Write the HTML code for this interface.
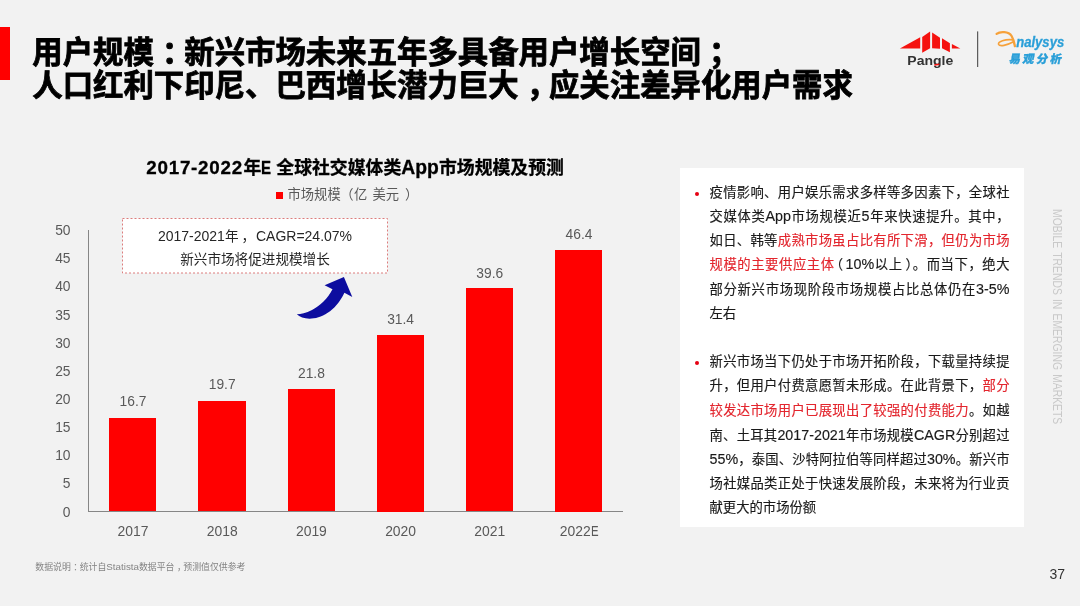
<!DOCTYPE html>
<html lang="zh-CN">
<head>
<meta charset="utf-8">
<title>用户规模</title>
<style>
html,body{margin:0;padding:0;}
body{width:1080px;height:606px;overflow:hidden;background:#f2f2f2;position:relative;
 font-family:"Liberation Sans","Noto Sans CJK SC",sans-serif;color:#000;}
.abs{position:absolute;white-space:nowrap;}
#redbar{left:0;top:27px;width:10px;height:53px;background:#ff0000;}
#title{left:32.3px;top:36.2px;font-size:30.4px;line-height:32.5px;font-weight:bold;color:#000;-webkit-text-stroke:0.8px #000;}
#title i{font-style:normal;position:relative;left:8px;}
#ctitle{left:146.3px;top:155px;font-size:17.85px;line-height:26px;font-weight:bold;color:#000;-webkit-text-stroke:0.3px #000;}
#ctitle span{display:inline-block;vertical-align:baseline;font-size:18.8px;}
#ctitle .d{width:97.1px;letter-spacing:0.75px;}
#ctitle .e{width:15.1px;}
#ctitle .e b{display:inline-block;transform:scaleX(0.8);transform-origin:0 50%;}
#ctitle .a{width:37.75px;font-size:19.3px;}
#legsq{left:276px;top:192px;width:7px;height:7px;background:#ff0000;}
#legtx{left:287.5px;top:185px;font-size:13.3px;line-height:20px;color:#595959;word-spacing:1.5px;}
#legtx i{font-style:normal;position:relative;}
.yl{width:40px;left:30.5px;text-align:right;font-size:13.8px;line-height:16px;color:#595959;}
.xl{width:89px;text-align:center;font-size:13.9px;line-height:16px;color:#595959;top:523.4px;}
.vl{width:89px;text-align:center;font-size:13.8px;line-height:16px;color:#595959;}
.bar{background:#ff0000;width:47.3px;}
#yaxis{left:88px;top:230px;width:1px;height:282px;background:#868686;}
#xaxis{left:88px;top:511px;width:535px;height:1px;background:#868686;}
#callout{left:121px;top:217px;}
.ct{left:122px;width:266px;text-align:center;font-size:13.6px;line-height:20px;color:#262626;}
.ct span{font-size:14px;}
#foot{left:35.3px;top:560.4px;font-size:8.9px;line-height:14px;color:#848484;}
#foot span{font-size:9.8px;}
#foot i{font-style:normal;position:relative;left:2.5px;}
#panel{left:680px;top:168px;width:344px;height:359px;background:#fff;}
.ln{left:709.5px;width:300px;font-size:13.33px;line-height:24px;height:24px;color:#1a1a1a;-webkit-text-stroke:0.15px;text-align:justify;text-align-last:justify;white-space:nowrap;}
.ln .l{font-size:14.3px;line-height:1;}
.ln.last{text-align-last:left;}
.r{color:#e3262e;}
.dot{width:4px;height:4px;border-radius:50%;background:#e60012;left:695px;}
#vtext{left:1056.6px;top:209.3px;font-size:12px;line-height:12px;color:#c9c9c9;transform-origin:0 0;transform:rotate(90deg) scale(0.864,1) translate(0,-50%);letter-spacing:0;word-spacing:1.5px;}
#pgnum{left:1049.5px;top:566px;font-size:14px;line-height:16px;color:#333;}
</style>
</head>
<body>
<div class="abs" id="redbar"></div>
<div class="abs" id="title">用户规模<i>：</i>新兴市场未来五年多具备用户增长空间<i>；</i><br>人口红利下印尼、巴西增长潜力巨大<i>，</i>应关注差异化用户需求</div>

<!-- logos -->
<svg class="abs" id="pangle" style="left:890px;top:22px" width="90" height="60" viewBox="890 22 90 60">
 <g fill="#f5120f">
  <polygon points="899.9,48.6 920.2,37.3 920.2,48.6"/>
  <polygon points="922.2,36.9 930.1,31.4 930.1,48.2 922.2,52.8"/>
  <polygon points="932.1,32.4 940,37.8 940,48.7 932.1,48.2"/>
  <polygon points="942,38.3 949.9,43.3 949.9,52.3 942,48.2"/>
  <polygon points="951.9,44 960.3,48.6 951.9,48.6"/>
 </g>
 <text x="907.3" y="65.1" font-family="Liberation Sans, sans-serif" font-weight="bold" font-size="13.2" fill="#333" textLength="46" lengthAdjust="spacingAndGlyphs">Pangle</text>
 <polygon points="934.3,64.3 939.4,63.4 939.4,65 934.3,65.8" fill="#f5120f"/>
 <rect x="977.1" y="31.4" width="1.1" height="35.6" fill="#4d4d4d"/>
</svg>
<svg class="abs" id="analysys" style="left:985px;top:22px" width="90" height="60" viewBox="985 22 90 60">
 <g fill="none" stroke="#f6a13a" stroke-linecap="round">
  <path d="M996.6,33.9 C1000,31.4 1008.5,31.2 1011.6,36 C1013.8,39.6 1014.3,43 1014.9,46.2" stroke-width="2.3"/>
  <path d="M1012.6,39.8 C1005,38.9 997.8,41.9 998.6,44.3 C999.6,46.7 1007,45.4 1013.5,41.8" stroke-width="1.7"/>
 </g>
 <text x="1016.2" y="46.8" font-family="Liberation Sans, sans-serif" font-weight="bold" font-style="italic" font-size="14.2" fill="#2a9fd8" stroke="#2a9fd8" stroke-width="0.3" textLength="48" lengthAdjust="spacingAndGlyphs">nalysys</text>
 <text x="1008.7" y="62.9" font-family="Liberation Sans, Noto Sans CJK SC, sans-serif" font-weight="900" font-size="11.4" fill="#2a9fd8" stroke="#2a9fd8" stroke-width="0.35" letter-spacing="2.3" transform="translate(1008.7 62.9) skewX(-10) translate(-1008.7 -62.9)">易观分析</text>
</svg>

<!-- chart -->
<div class="abs" id="ctitle"><span class="d">2017-2022</span>年<span class="e"><b>E</b> </span>全球社交媒体类<span class="a">App</span>市场规模及预测</div>
<div class="abs" id="legsq"></div>
<div class="abs" id="legtx">市场规模<i style="left:-0.5px">（</i>亿 美元<i style="left:6px">）</i></div>

<div class="abs yl" style="top:223.0px">50</div>
<div class="abs yl" style="top:251.2px">45</div>
<div class="abs yl" style="top:279.3px">40</div>
<div class="abs yl" style="top:307.5px">35</div>
<div class="abs yl" style="top:335.6px">30</div>
<div class="abs yl" style="top:363.8px">25</div>
<div class="abs yl" style="top:391.9px">20</div>
<div class="abs yl" style="top:420.1px">15</div>
<div class="abs yl" style="top:448.2px">10</div>
<div class="abs yl" style="top:476.4px">5</div>
<div class="abs yl" style="top:504.5px">0</div>

<div class="abs" id="yaxis"></div>
<div class="abs" id="xaxis"></div>
<div class="abs bar" style="left:109.2px;top:417.7px;height:93.8px"></div>
<div class="abs bar" style="left:198.4px;top:400.9px;height:110.6px"></div>
<div class="abs bar" style="left:287.6px;top:388.6px;height:122.9px"></div>
<div class="abs bar" style="left:376.8px;top:334.5px;height:177px"></div>
<div class="abs bar" style="left:465.7px;top:288.3px;height:223.2px"></div>
<div class="abs bar" style="left:555px;top:250px;height:261.5px"></div>

<div class="abs vl" style="left:88.5px;top:394.2px">16.7</div>
<div class="abs vl" style="left:177.7px;top:377.2px">19.7</div>
<div class="abs vl" style="left:266.9px;top:365.7px">21.8</div>
<div class="abs vl" style="left:356.1px;top:311.7px">31.4</div>
<div class="abs vl" style="left:445.3px;top:265.7px">39.6</div>
<div class="abs vl" style="left:534.5px;top:227.0px">46.4</div>


<div class="abs xl" style="left:88.5px">2017</div>
<div class="abs xl" style="left:177.7px">2018</div>
<div class="abs xl" style="left:266.9px">2019</div>
<div class="abs xl" style="left:356.1px">2020</div>
<div class="abs xl" style="left:445.3px">2021</div>
<div class="abs xl" style="left:534.5px">2022<b style="display:inline-block;font-weight:normal;transform:scaleX(0.82);transform-origin:0 50%;margin-right:-1.6px">E</b></div>

<svg class="abs" id="callout" width="269" height="58" viewBox="0 0 269 58"><rect x="1.5" y="1.5" width="265" height="54.5" fill="#fff" stroke="#dc7c7c" stroke-width="1" stroke-dasharray="2 2"/></svg>
<div class="abs ct" style="top:226px"><span>2017-2021</span>年<i style="font-style:normal;position:relative;left:3px">，</i><span> CAGR=24.07%</span></div>
<div class="abs ct" style="top:250px">新兴市场将促进规模增长</div>

<svg class="abs" style="left:280px;top:260px" width="90" height="60" viewBox="280 260 90 60">
 <path d="M296.8,314.3 C305,322.5 331,321 344.4,292.7 L352.3,297.1 L343.9,277 L324.6,285.2 L332.5,289.2 C328,298 320,306 312,310 C306,313 301,314 296.8,314.3 Z" fill="#0d0d9f"/>
</svg>

<div class="abs" id="foot">数据说明<i>：</i>统计自<span>Statista</span>数据平台<i>，</i>预测值仅供参考</div>

<!-- right panel -->
<div class="abs" id="panel"></div>
<div class="abs dot" style="top:192px"></div>
<div class="abs ln" style="top:181px">疫情影响、用户娱乐需求多样等多因素下，全球社</div>
<div class="abs ln" style="top:204.7px">交媒体类<span class="l">App</span>市场规模近<span class="l">5</span>年来快速提升。其中，</div>
<div class="abs ln" style="top:228.8px">如日、韩等<span class="r">成熟市场虽占比有所下滑，但仍为市场</span></div>
<div class="abs ln" style="top:252.7px"><span class="r">规模的主要供应主体</span><i style="font-style:normal;position:relative;left:-5px">（</i><i style="font-style:normal;position:relative;left:-3px"><span class="l">10%</span>以上</i>）。而当下，绝大</div>
<div class="abs ln" style="top:278.1px">部分新兴市场现阶段市场规模占比总体仍在<span class="l">3-5%</span></div>
<div class="abs ln last" style="top:302px">左右</div>

<div class="abs dot" style="top:361px"></div>
<div class="abs ln" style="top:349.9px">新兴市场当下仍处于市场开拓阶段，下载量持续提</div>
<div class="abs ln" style="top:373.8px">升，但用户付费意愿暂未形成。在此背景下，<span class="r">部分</span></div>
<div class="abs ln" style="top:399.4px"><span class="r">较发达市场用户已展现出了较强的付费能力</span>。如越</div>
<div class="abs ln" style="top:423.5px">南、土耳其<span class="l">2017-2021</span>年市场规模<span class="l">CAGR</span>分别超过</div>
<div class="abs ln" style="top:447.7px"><span class="l">55%</span>，泰国、沙特阿拉伯等同样超过<span class="l">30%</span>。新兴市</div>
<div class="abs ln" style="top:471.6px">场社媒品类正处于快速发展阶段，未来将为行业贡</div>
<div class="abs ln last" style="top:495.8px">献更大的市场份额</div>

<div class="abs" id="vtext">MOBILE TRENDS IN EMERGING MARKETS</div>
<div class="abs" id="pgnum">37</div>
</body>
</html>
